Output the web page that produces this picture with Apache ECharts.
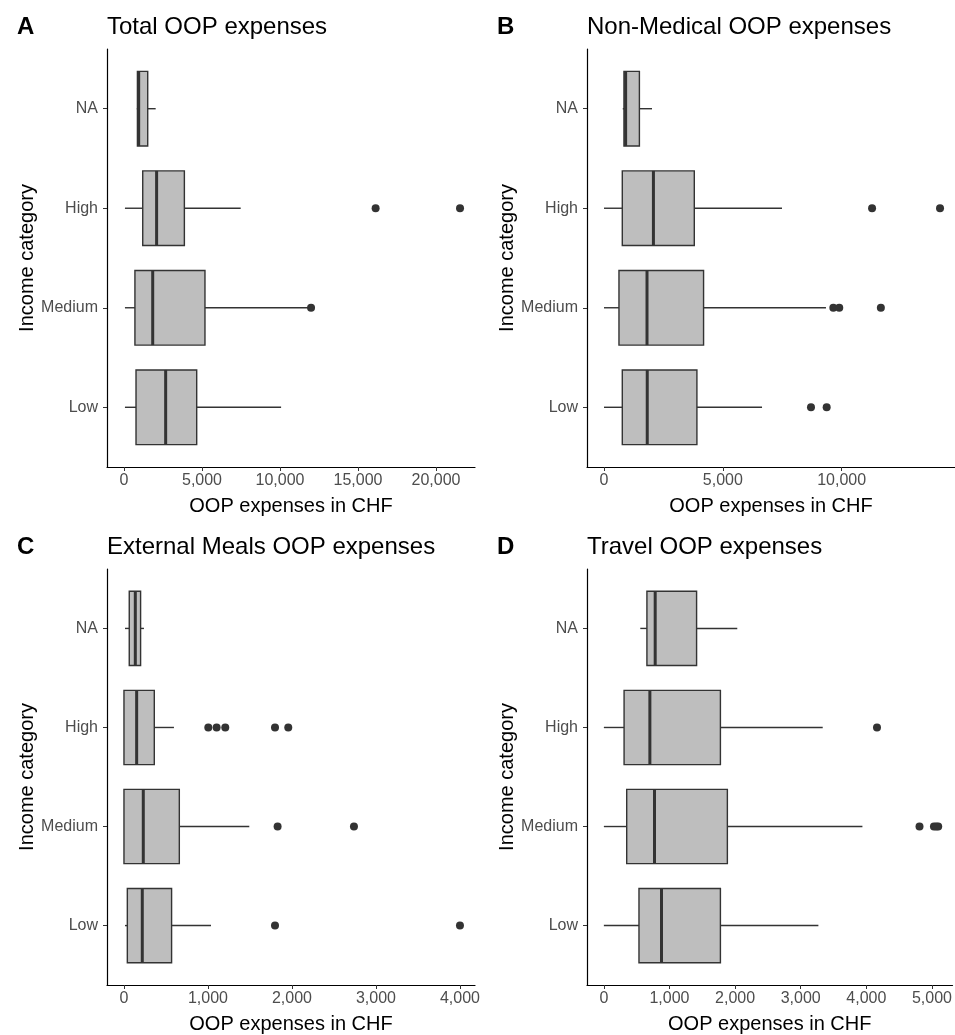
<!DOCTYPE html>
<html style="height: 100%">
<head>
    <meta charset="utf-8">
    <script src="https://cdn.jsdelivr.net/npm/echarts@6/dist/echarts.min.js"></script>
</head>
<body style="height: 100%; margin: 0; background: #fff">
<div id="container" style="width: 955px; height: 1035px"></div>
<script type="text/javascript">
    // categories bottom -> top
    var categories = ['Low', 'Medium', 'High', 'NA'];

    // each row: [lower whisker, Q1, median, Q3, upper whisker], order Low, Medium, High, NA
    var totalBoxes = [
        [60, 770, 2670, 4660, 10070],
        [60, 700, 1840, 5190, 11800],
        [60, 1200, 2090, 3870, 7480],
        [820, 860, 940, 1520, 2030]
    ];
    var totalOutliers = [[11990, 2], [16130, 3], [21540, 3]];

    var nonMedBoxes = [
        [0, 770, 1820, 3910, 6650],
        [0, 630, 1810, 4190, 9340],
        [0, 770, 2080, 3800, 7490],
        [790, 840, 910, 1490, 2020]
    ];
    var nonMedOutliers = [[8710, 1], [9370, 1], [9650, 2], [9900, 2], [11650, 2], [11280, 3], [14140, 3]];

    var mealsBoxes = [
        [12, 40, 218, 567, 1036],
        [0, 0, 230, 659, 1492],
        [0, 0, 151, 361, 595],
        [12, 63, 135, 198, 238]
    ];
    var mealsOutliers = [[1798, 1], [4000, 1], [1829, 2], [2738, 2],
        [1004, 3], [1103, 3], [1206, 3], [1798, 3], [1956, 3]];

    var travelBoxes = [
        [0, 535, 878, 1776, 3269],
        [0, 348, 772, 1882, 3940],
        [0, 308, 701, 1776, 3335],
        [555, 656, 782, 1413, 2033]
    ];
    var travelOutliers = [[4810, 2], [5030, 2], [5065, 2], [5095, 2], [4162, 3]];

    var panelLetters = ['A', 'B', 'C', 'D'];
    var panelTitles = ['Total OOP expenses', 'Non-Medical OOP expenses', 'External Meals OOP expenses', 'Travel OOP expenses'];
    var xTicks = [
        [0, 5000, 10000, 15000, 20000],
        [0, 5000, 10000],
        [0, 1000, 2000, 3000, 4000],
        [0, 1000, 2000, 3000, 4000, 5000]
    ];
    var xRanges = [[-1090, 22500], [-715, 14770], [-202, 4179], [-257, 5313]];

    var allBoxes = [totalBoxes, nonMedBoxes, mealsBoxes, travelBoxes];
    var allOutliers = [totalOutliers, nonMedOutliers, mealsOutliers, travelOutliers];

    var dom = document.getElementById('container');
    var myChart = echarts.init(dom, null, {renderer: 'canvas'});

    var gridPos = [
        {left: 107, top: 49, width: 368, height: 418},
        {left: 587, top: 49, width: 368, height: 418},
        {left: 107, top: 569, width: 368, height: 417},
        {left: 587, top: 569, width: 368, height: 417}
    ];

    function renderBox(params, api) {
        var y = api.value(0);
        var lo = api.coord([api.value(1), y]);
        var q1 = api.coord([api.value(2), y]);
        var md = api.coord([api.value(3), y]);
        var q3 = api.coord([api.value(4), y]);
        var hi = api.coord([api.value(5), y]);
        var half = api.size([0, 0.375])[1];
        var stroke = '#333333';
        return {
            type: 'group',
            children: [
                {type: 'line', shape: {x1: lo[0], y1: lo[1], x2: q1[0], y2: q1[1]}, style: {stroke: stroke, lineWidth: 1.4}},
                {type: 'line', shape: {x1: q3[0], y1: q3[1], x2: hi[0], y2: hi[1]}, style: {stroke: stroke, lineWidth: 1.4}},
                {type: 'rect', shape: {x: q1[0], y: q1[1] - half, width: q3[0] - q1[0], height: 2 * half},
                    style: {fill: '#bebebe', stroke: stroke, lineWidth: 1.4}},
                {type: 'line', shape: {x1: md[0], y1: md[1] - half, x2: md[0], y2: md[1] + half},
                    style: {stroke: stroke, lineWidth: 3}}
            ]
        };
    }

    var titles = [], grids = [], xAxes = [], yAxes = [], series = [];
    for (var i = 0; i < 4; i++) {
        var g = gridPos[i];
        grids.push(g);
        titles.push({
            text: panelLetters[i], left: g.left - 90, top: g.top - 34, padding: 0,
            textStyle: {fontSize: 24, fontWeight: 'bold', color: '#000'}
        });
        titles.push({
            text: panelTitles[i], left: g.left, top: g.top - 34, padding: 0,
            textStyle: {fontSize: 24, fontWeight: 'normal', color: '#000'}
        });
        xAxes.push({
            type: 'value', gridIndex: i, min: xRanges[i][0], max: xRanges[i][1],
            name: 'OOP expenses in CHF', nameLocation: 'middle', nameGap: 29,
            nameTextStyle: {fontSize: 20, color: '#000'},
            axisLine: {onZero: false, lineStyle: {color: '#000', width: 1.2}},
            axisTick: {customValues: xTicks[i], length: 4, lineStyle: {color: '#333'}},
            axisLabel: {
                customValues: xTicks[i], fontSize: 16, color: '#4d4d4d', margin: 6,
                formatter: function (v) { return Number(v).toLocaleString('en-US'); }
            },
            splitLine: {show: false}
        });
        yAxes.push({
            type: 'value', gridIndex: i, min: 0.4, max: 4.6,
            name: 'Income category', nameLocation: 'middle', nameGap: 70, nameRotate: 90,
            nameTextStyle: {fontSize: 20, color: '#000'},
            axisLine: {onZero: false, lineStyle: {color: '#000', width: 1.2}},
            axisTick: {customValues: [1, 2, 3, 4], length: 4, lineStyle: {color: '#333'}},
            axisLabel: {
                customValues: [1, 2, 3, 4], fontSize: 16, color: '#4d4d4d', margin: 9,
                formatter: function (v) { return categories[Math.round(v) - 1]; }
            },
            splitLine: {show: false}
        });
        var boxData = [];
        for (var c = 0; c < categories.length; c++) {
            boxData.push([c + 1].concat(allBoxes[i][c]));
        }
        series.push({
            type: 'custom', xAxisIndex: i, yAxisIndex: i,
            renderItem: renderBox,
            encode: {x: [1, 2, 3, 4, 5], y: 0},
            data: boxData, silent: true
        });
        series.push({
            type: 'scatter', xAxisIndex: i, yAxisIndex: i,
            symbolSize: 8, itemStyle: {color: '#333333', opacity: 1},
            data: allOutliers[i].map(function (o) { return [o[0], o[1]]; }),
            silent: true
        });
    }

    myChart.setOption({
        animation: false,
        backgroundColor: '#fff',
        textStyle: {fontFamily: 'Liberation Sans, Arial, sans-serif'},
        title: titles,
        grid: grids,
        xAxis: xAxes,
        yAxis: yAxes,
        series: series
    });
</script>
</body>
</html>
